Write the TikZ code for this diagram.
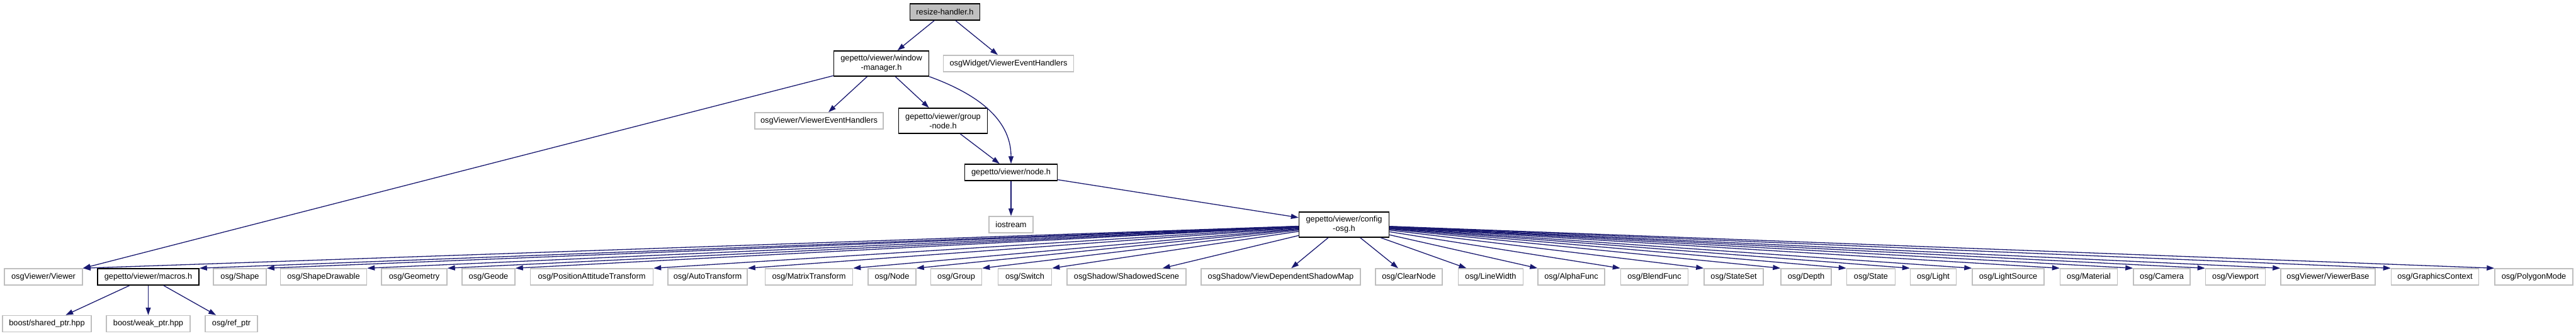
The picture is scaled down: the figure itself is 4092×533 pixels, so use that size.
\documentclass[tikz,border=0pt]{standalone}
\usepackage{fontspec}
\setmainfont{Liberation Sans}
\usetikzlibrary{arrows.meta}
\definecolor{edgeblue}{HTML}{191970}
\definecolor{extgray}{HTML}{BFBFBF}
\begin{document}
\begin{tikzpicture}[x=1pt, y=-1pt,
    font=\fontsize{12.8}{15}\selectfont,
    incl/.style={draw=black, line width=1.5pt, inner sep=0pt, minimum height=26, align=center},
    ext/.style={draw=extgray, line width=1.5pt, inner sep=0pt, minimum height=26, align=center},
    edge/.style={edgeblue, line width=1.3pt, -{Triangle[length=12pt,width=8pt]}}]
    \useasboundingbox (0,0) rectangle (4092,533);

    % upper part of the graph
    \node[incl, fill=black!25, minimum width=111] (resize) at (1501,19) {resize-handler.h};
    \node[incl, minimum width=151, minimum height=40] (wm) at (1400,101) {gepetto/viewer/window\\-manager.h};
    \node[ext, minimum width=207] (osgwidget) at (1602,101) {osgWidget/ViewerEventHandlers};
    \node[ext, minimum width=204] (vehandler) at (1301,192) {osgViewer/ViewerEventHandlers};
    \node[incl, minimum width=141, minimum height=40] (groupnode) at (1498,192) {gepetto/viewer/group\\-node.h};
    \node[incl, minimum width=147] (nodeh) at (1606,274) {gepetto/viewer/node.h};
    \node[ext, minimum width=70] (iostream) at (1606,357) {iostream};
    \node[incl, minimum width=143, minimum height=40] (cfg) at (2135,357) {gepetto/viewer/config\\-osg.h};

    % bottom row
    \node[ext, minimum width=124] (viewer) at (69,440) {osgViewer/Viewer};
    \node[incl, minimum width=161] (macros) at (235.5,440) {gepetto/viewer/macros.h};
    \node[ext, minimum width=84] (shape) at (381,440) {osg/Shape};
    \node[ext, minimum width=137] (shapedraw) at (514,440) {osg/ShapeDrawable};
    \node[ext, minimum width=104] (geometry) at (658,440) {osg/Geometry};
    \node[ext, minimum width=84] (geode) at (776,440) {osg/Geode};
    \node[ext, minimum width=195] (pat) at (940,440) {osg/PositionAttitudeTransform};
    \node[ext, minimum width=126] (autotf) at (1124,440) {osg/AutoTransform};
    \node[ext, minimum width=139] (matrixtf) at (1285,440) {osg/MatrixTransform};
    \node[ext, minimum width=76] (osgnode) at (1417,440) {osg/Node};
    \node[ext, minimum width=81] (group) at (1519,440) {osg/Group};
    \node[ext, minimum width=85] (switch) at (1628,440) {osg/Switch};
    \node[ext, minimum width=189] (shadowed) at (1789.5,440) {osgShadow/ShadowedScene};
    \node[ext, minimum width=253] (vdsm) at (2034.5,440) {osgShadow/ViewDependentShadowMap};
    \node[ext, minimum width=106] (clearnode) at (2238,440) {osg/ClearNode};
    \node[ext, minimum width=103] (linewidth) at (2368,440) {osg/LineWidth};
    \node[ext, minimum width=106] (alphafunc) at (2496,440) {osg/AlphaFunc};
    \node[ext, minimum width=107] (blendfunc) at (2628,440) {osg/BlendFunc};
    \node[ext, minimum width=94] (stateset) at (2754,440) {osg/StateSet};
    \node[ext, minimum width=80] (depth) at (2869,440) {osg/Depth};
    \node[ext, minimum width=77] (state) at (2972,440) {osg/State};
    \node[ext, minimum width=73] (light) at (3071,440) {osg/Light};
    \node[ext, minimum width=114] (lightsource) at (3190,440) {osg/LightSource};
    \node[ext, minimum width=91] (material) at (3318,440) {osg/Material};
    \node[ext, minimum width=90] (camera) at (3434,440) {osg/Camera};
    \node[ext, minimum width=95] (viewport) at (3551,440) {osg/Viewport};
    \node[ext, minimum width=150] (viewerbase) at (3698,440) {osgViewer/ViewerBase};
    \node[ext, minimum width=139] (gc) at (3868,440) {osg/GraphicsContext};
    \node[ext, minimum width=124] (polygonmode) at (4025,440) {osg/PolygonMode};

    % boost row
    \node[ext, minimum width=141] (sharedptr) at (74.5,514.5) {boost/shared\_ptr.hpp};
    \node[ext, minimum width=133] (weakptr) at (235.5,514.5) {boost/weak\_ptr.hpp};
    \node[ext, minimum width=83] (refptr) at (367.5,514.5) {osg/ref\_ptr};

    \draw[edge] (resize) -- (wm);
    \draw[edge] (resize) -- (osgwidget);
    \draw[edge] (wm) -- (viewer.north east);
    \draw[edge] (wm) -- (vehandler);
    \draw[edge] (wm) -- (groupnode);
    \draw[edge] (wm.south east) to[out=-20, in=90] (nodeh.north);
    \draw[edge] (groupnode) -- (nodeh);
    \draw[edge] (nodeh) -- (iostream);
    \draw[edge] (nodeh) -- (cfg);

    % config-osg.h includes
    \draw[edge] (cfg) -- (viewer.north east);
    \draw[edge] (cfg) -- (macros.north east);
    \draw[edge] (cfg) -- (shape.north east);
    \draw[edge] (cfg) -- (shapedraw.north east);
    \draw[edge] (cfg) -- (geometry.north east);
    \draw[edge] (cfg) -- (geode.north east);
    \draw[edge] (cfg) -- (pat.north east);
    \draw[edge] (cfg) -- (autotf.north east);
    \draw[edge] (cfg) -- (matrixtf.north east);
    \draw[edge] (cfg) -- (osgnode.north east);
    \draw[edge] (cfg) -- (group.north east);
    \draw[edge] (cfg) -- (switch.north east);
    \draw[edge] (cfg) -- (shadowed);
    \draw[edge] (cfg) -- (vdsm);
    \draw[edge] (cfg) -- (clearnode);
    \draw[edge] (cfg) -- (linewidth);
    \draw[edge] (cfg) -- (alphafunc.north west);
    \draw[edge] (cfg) -- (blendfunc.north west);
    \draw[edge] (cfg) -- (stateset.north west);
    \draw[edge] (cfg) -- (depth.north west);
    \draw[edge] (cfg) -- (state.north west);
    \draw[edge] (cfg) -- (light.north west);
    \draw[edge] (cfg) -- (lightsource.north west);
    \draw[edge] (cfg) -- (material.north west);
    \draw[edge] (cfg) -- (camera.north west);
    \draw[edge] (cfg) -- (viewport.north west);
    \draw[edge] (cfg) -- (viewerbase.north west);
    \draw[edge] (cfg) -- (gc.north west);
    \draw[edge] (cfg) -- (polygonmode.north west);

    \draw[edge] (macros) -- (sharedptr);
    \draw[edge] (macros) -- (weakptr);
    \draw[edge] (macros) -- (refptr);
\end{tikzpicture}
\end{document}
